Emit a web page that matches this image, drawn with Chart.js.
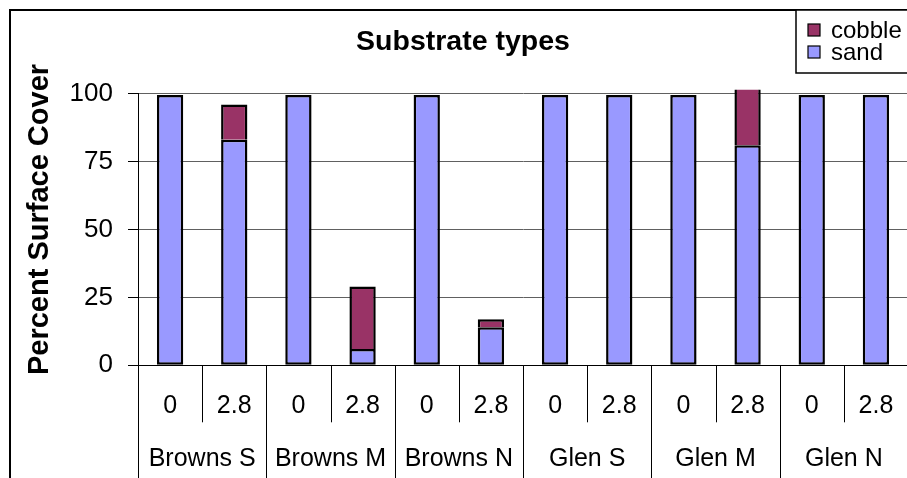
<!DOCTYPE html>
<html>
<head>
<meta charset="utf-8">
<script src="https://cdn.jsdelivr.net/npm/chart.js@4.4.1/dist/chart.umd.min.js"></script>
<style>
  html, body { margin: 0; padding: 0; background: #fff; overflow: hidden; }
  #wrap { width: 944px; height: 478px; }
</style>
</head>
<body>
<div id="wrap"><canvas id="c"></canvas></div>
<script>
// Sites along the stream and the two flow treatments sampled at each
const sites = ['Browns S', 'Browns M', 'Browns N', 'Glen S', 'Glen M', 'Glen N'];
const treatments = ['0', '2.8'];
const categories = sites.flatMap(() => treatments);

// Percent surface cover per site/treatment
const sand   = [99.5, 83, 99.5, 6, 99.5, 14, 99.5, 99.5, 99.5, 81, 99.5, 99.5];
const cobble = [0,    13, 0,   23, 0,    3,  0,    0,    0,    22, 0,    0];

const yTicks = [0, 25, 50, 75, 100];

const FONT = "'Liberation Sans', Arial, Helvetica, sans-serif";
Chart.defaults.font.family = FONT;
Chart.defaults.color = '#000';

// Raise the value-axis title a little above the plot's vertical centre
const titleShift = {
  id: 'titleShift',
  beforeDraw(chart) {
    const y = chart.scales.y;
    if (y && !y._shifted) {
      const orig = y.drawTitle;
      y.drawTitle = function (...args) {
        const ctx = this.ctx;
        ctx.save();
        ctx.translate(0, -10);
        orig.apply(this, args);
        ctx.restore();
      };
      y._shifted = true;
    }
  }
};

// Outer frame, two-level category separators and the boxed legend
const framePlugin = {
  id: 'frame',
  afterDraw(chart) {
    const ctx = chart.ctx;
    const x = chart.scales.x;
    const area = chart.chartArea;
    ctx.save();

    // separators under the category axis
    const step = x.getPixelForValue(1) - x.getPixelForValue(0);
    ctx.strokeStyle = '#000';
    ctx.lineWidth = 1;
    for (let i = 0; i <= categories.length; i++) {
      const px = Math.round(x.getPixelForValue(0) - step / 2 + i * step) + 0.5;
      const endY = (i % treatments.length === 0) ? chart.height : x.bottom;
      ctx.beginPath();
      ctx.moveTo(px, area.bottom);
      ctx.lineTo(px, endY);
      ctx.stroke();
    }

    // outer chart border
    ctx.lineWidth = 2;
    ctx.strokeRect(10, 10, chart.width + 40, chart.height + 40);

    // legend box (entries listed top of stack first)
    const lx = 796, ly = 10, lw = 200, lh = 63;
    ctx.fillStyle = '#fff';
    ctx.fillRect(lx, ly, lw, lh);
    ctx.lineWidth = 1.5;
    ctx.strokeRect(lx, ly, lw, lh);
    const items = chart.data.datasets.slice().reverse();
    const rowY = [30, 52];
    ctx.font = '24px ' + FONT;
    ctx.textBaseline = 'middle';
    ctx.textAlign = 'left';
    items.forEach((ds, k) => {
      const cy = rowY[k];
      ctx.fillStyle = ds.backgroundColor;
      ctx.fillRect(808, cy - 6, 12, 12);
      ctx.lineWidth = 1.2;
      ctx.strokeStyle = '#000';
      ctx.strokeRect(808, cy - 6, 12, 12);
      ctx.fillStyle = '#000';
      ctx.fillText(ds.label, 831, cy + 1);
    });
    ctx.restore();
  }
};

const clipBox = { left: 0, top: 4, right: 0, bottom: 0 };

new Chart(document.getElementById('c'), {
  type: 'bar',
  data: {
    labels: categories,
    datasets: [
      {
        label: 'sand', data: sand,
        backgroundColor: '#9999FF', borderColor: '#000', borderWidth: 2.5,
        borderSkipped: false, clip: clipBox
      },
      {
        label: 'cobble', data: cobble,
        backgroundColor: '#993366', borderColor: '#000', borderWidth: 2.5,
        borderSkipped: 'bottom', clip: clipBox
      }
    ]
  },
  options: {
    responsive: true,
    maintainAspectRatio: false,
    animation: false,
    events: [],
    layout: { padding: { left: 18, right: 36, top: 0, bottom: 0 } },
    datasets: { bar: { categoryPercentage: 1, barPercentage: 0.41 } },
    plugins: {
      legend: { display: false },
      tooltip: { enabled: false },
      title: {
        display: true,
        text: 'Substrate types',
        color: '#000',
        font: { size: 28.5, weight: 'bold' },
        padding: { top: 25, bottom: 34.5 }
      }
    },
    scales: {
      x: {
        type: 'category',
        stacked: true,
        offset: true,
        weight: 0,
        grid: { display: false, drawTicks: false },
        border: { display: true, color: '#000', width: 1 },
        ticks: { font: { size: 25 }, color: '#000', padding: 26, maxRotation: 0, autoSkip: false },
        afterFit: s => { s.height = 57; }
      },
      x2: {
        type: 'category',
        labels: sites,
        position: 'bottom',
        offset: true,
        weight: 1,
        grid: { display: false, drawTicks: false },
        border: { display: false },
        ticks: { font: { size: 25 }, color: '#000', padding: 22, maxRotation: 0, autoSkip: false },
        afterFit: s => { s.height = 55.7; }
      },
      y: {
        stacked: true,
        min: 0,
        max: 100,
        afterBuildTicks: s => { s.ticks = yTicks.map(v => ({ value: v })); },
        ticks: { font: { size: 26 }, color: '#000', padding: 15 },
        grid: { color: '#606060', lineWidth: 1, tickLength: 10, tickColor: '#000' },
        border: { color: '#000', width: 1 },
        title: {
          display: true,
          text: 'Percent Surface Cover',
          color: '#000',
          font: { size: 29, weight: 'bold' },
          padding: { top: 5, bottom: 0 }
        },
        afterFit: s => { s.width = 120; }
      }
    }
  },
  plugins: [titleShift, framePlugin]
});
</script>
</body>
</html>
